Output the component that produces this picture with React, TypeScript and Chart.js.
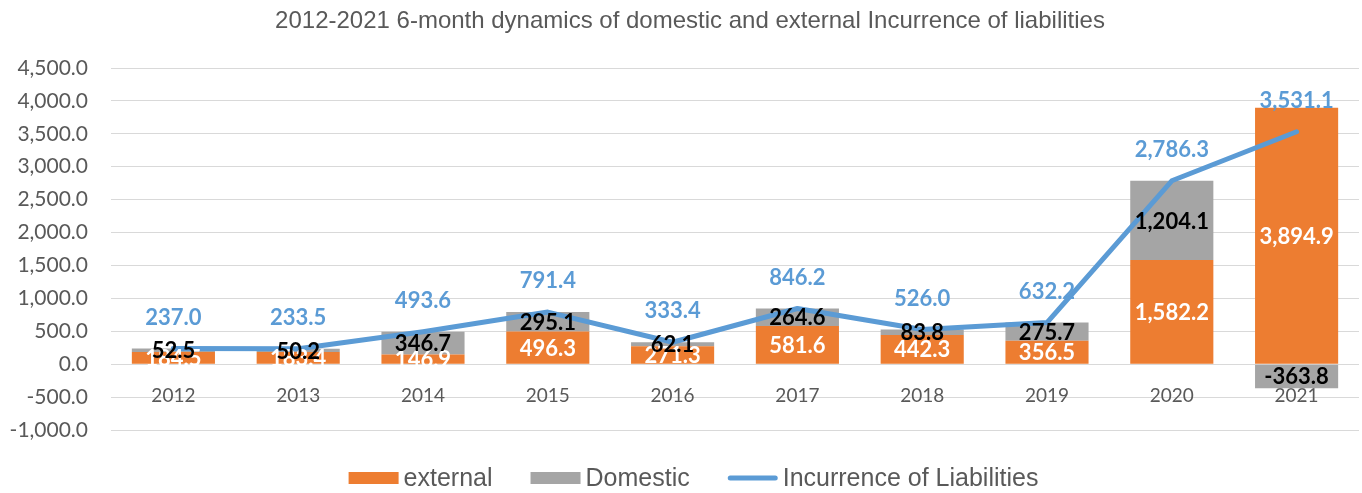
import { useEffect, useRef } from 'react';
import { Chart, registerables } from 'chart.js';

Chart.register(...registerables);

const categories = ['2012', '2013', '2014', '2015', '2016', '2017', '2018', '2019', '2020', '2021'];
const externalValues = [184.5, 183.4, 146.9, 496.3, 271.3, 581.6, 442.3, 356.5, 1582.2, 3894.9];
const domesticValues = [52.5, 50.2, 346.7, 295.1, 62.1, 264.6, 83.8, 275.7, 1204.1, -363.8];
const incurrenceValues = [237.0, 233.5, 493.6, 791.4, 333.4, 846.2, 526.0, 632.2, 2786.3, 3531.1];
const yMin = -1000;
const yMax = 4500;
const yStep = 500;

const TITLE = '2012-2021 6-month dynamics of domestic and external Incurrence of liabilities';
const ORANGE = '#ED7D31';
const GRAY = '#A5A5A5';
const BLUE = '#5B9BD5';
const TEXT = '#595959';

const fmt = (v: number) =>
  v.toLocaleString('en-US', { minimumFractionDigits: 1, maximumFractionDigits: 1 });

const valueLabels = {
  id: 'valueLabels',
  afterDatasetsDraw(chart: any) {
    const ctx = chart.ctx;
    ctx.save();
    ctx.font = 'bold 22px Lato';
    ctx.textAlign = 'center';
    ctx.textBaseline = 'middle';
    chart.data.datasets.forEach((ds: any, di: number) => {
      const meta = chart.getDatasetMeta(di);
      meta.data.forEach((el: any, i: number) => {
        const v = ds.data[i] as number;
        const text = fmt(v);
        if (ds.type === 'line') {
          ctx.fillStyle = BLUE;
          ctx.fillText(text, el.x, el.y - 31);
        } else {
          const p = el.getProps(['x', 'y', 'base'], true);
          ctx.fillStyle = di === 0 ? '#FFFFFF' : '#000000';
          ctx.fillText(text, p.x, (p.y + p.base) / 2 + 1);
        }
      });
    });
    ctx.restore();
  },
};

// Title and legend, drawn in the frame around the plot area
const frame = {
  id: 'frame',
  afterDraw(chart: any) {
    const ctx = chart.ctx;
    ctx.save();
    // title
    ctx.fillStyle = TEXT;
    ctx.font = '24px "Liberation Sans"';
    ctx.textAlign = 'center';
    ctx.textBaseline = 'middle';
    ctx.fillText(TITLE, 690, 21);

    // legend
    ctx.font = '25px "Liberation Sans"';
    ctx.textAlign = 'left';
    const boxW = 50;
    const textGap = 5;
    const itemGap = 38;
    const items = chart.data.datasets.map((ds: any) => ({
      text: ds.label,
      color: ds.type === 'line' ? ds.borderColor : ds.backgroundColor,
      isLine: ds.type === 'line',
      w: ctx.measureText(ds.label).width,
    }));
    const total =
      items.reduce((s: number, it: any) => s + boxW + textGap + it.w, 0) + itemGap * (items.length - 1);
    let x = 693.5 - total / 2;
    const cy = 478;
    items.forEach((it: any) => {
      if (it.isLine) {
        ctx.strokeStyle = it.color;
        ctx.lineWidth = 5;
        ctx.lineCap = 'round';
        ctx.beginPath();
        ctx.moveTo(x + 2.5, cy);
        ctx.lineTo(x + boxW - 2.5, cy);
        ctx.stroke();
      } else {
        ctx.fillStyle = it.color;
        ctx.fillRect(x, cy - 6, boxW, 12);
      }
      ctx.fillStyle = TEXT;
      ctx.fillText(it.text, x + boxW + textGap, cy + 1);
      x += boxW + textGap + it.w + itemGap;
    });
    ctx.restore();
  },
};

export default function App() {
  const ref = useRef<HTMLCanvasElement | null>(null);
  useEffect(() => {
    document.body.style.margin = '0';
    const canvas = ref.current;
    if (!canvas) return;
    const chart = new Chart(canvas, {
      data: {
        labels: categories,
        datasets: [
          {
            type: 'bar',
            label: 'external',
            data: externalValues,
            backgroundColor: ORANGE,
            stack: 'bars',
            order: 1,
            barPercentage: 0.666,
            categoryPercentage: 1,
          } as any,
          {
            type: 'bar',
            label: 'Domestic',
            data: domesticValues,
            backgroundColor: GRAY,
            stack: 'bars',
            order: 2,
            barPercentage: 0.666,
            categoryPercentage: 1,
          } as any,
          {
            type: 'line',
            label: 'Incurrence of Liabilities',
            data: incurrenceValues,
            borderColor: BLUE,
            backgroundColor: BLUE,
            borderWidth: 5,
            borderJoinStyle: 'round',
            borderCapStyle: 'round',
            pointRadius: 0,
            pointHoverRadius: 0,
            tension: 0,
            stack: 'line',
            order: 0,
          } as any,
        ],
      },
      options: {
        responsive: false,
        animation: false,
        layout: { padding: { left: 0, right: 3, top: 68, bottom: 63 } },
        scales: {
          x: {
            position: { y: 0 } as any,
            grid: { display: false },
            border: { display: false },
            ticks: {
              color: TEXT,
              font: { family: 'Lato', size: 19 },
              padding: 12,
              maxRotation: 0,
            },
          },
          y: {
            stacked: true,
            min: yMin,
            max: yMax,
            grid: { color: '#D9D9D9', lineWidth: 1, drawTicks: false },
            border: { display: false },
            ticks: {
              stepSize: yStep,
              color: TEXT,
              font: { family: 'Lato', size: 21 },
              padding: 23,
              callback: (v: any) => fmt(Number(v)),
            },
            afterFit: (scale: any) => {
              scale.width = 111;
            },
          },
        },
        plugins: {
          title: { display: false },
          legend: { display: false },
          tooltip: { enabled: false },
        },
      } as any,
      plugins: [valueLabels, frame],
    });
    return () => chart.destroy();
  }, []);
  return (
    <div style={{ width: 1362, height: 493 }}>
      <canvas ref={ref} width={1362} height={493} />
    </div>
  );
}
